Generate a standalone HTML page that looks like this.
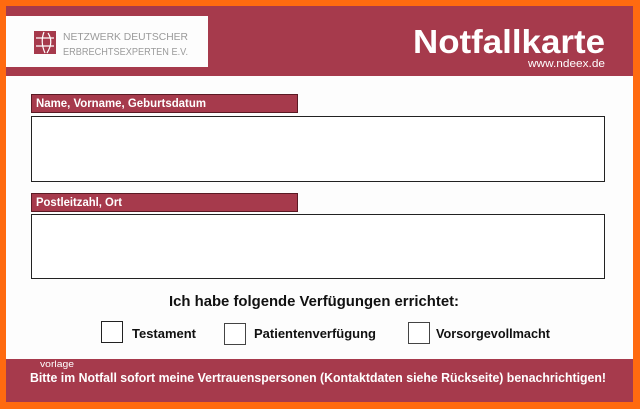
<!DOCTYPE html>
<html><head><meta charset="utf-8"><style>
html,body{margin:0;padding:0;background:#ff6a10;}
svg{display:block}
text{font-family:"Liberation Sans",sans-serif;font-weight:bold}
text.n{font-weight:normal}
</style></head><body>
<svg width="640" height="409" viewBox="0 0 640 409" xmlns="http://www.w3.org/2000/svg">
<rect x="0" y="0" width="640" height="409" fill="#ff6a10"/>
<rect x="6" y="6" width="627" height="396" fill="#fdfdfd"/>
<rect x="6" y="6" width="627" height="70" fill="#a63a4c"/>
<rect x="6" y="16" width="202" height="51" fill="#fdfdfd"/>
<rect x="34" y="31" width="22" height="23" fill="#a63a4c"/>
<path d="M36 38 H54 M36 46 H54 M44 32 Q40 42 45 53 M48 33 Q54 42 47 53" stroke="#fff" stroke-width="1.2" fill="none"/>
<text class="n" x="63" y="40" font-size="10" fill="#9a9a9a" textLength="125" lengthAdjust="spacingAndGlyphs">NETZWERK DEUTSCHER</text>
<text class="n" x="63" y="55" font-size="10" fill="#9a9a9a" textLength="125" lengthAdjust="spacingAndGlyphs">ERBRECHTSEXPERTEN E.V.</text>
<text x="413" y="53" font-size="33" fill="#fff" textLength="192" lengthAdjust="spacingAndGlyphs">Notfallkarte</text>
<text class="n" x="528" y="67" font-size="11" fill="#fff" textLength="77" lengthAdjust="spacingAndGlyphs">www.ndeex.de</text>

<rect x="31.5" y="94.5" width="266" height="18" fill="#a63a4c" stroke="#5a1a24"/>
<text x="36" y="107" font-size="12" fill="#fff" textLength="170" lengthAdjust="spacingAndGlyphs">Name, Vorname, Geburtsdatum</text>
<rect x="31.5" y="116.5" width="573" height="65" fill="#fff" stroke="#222"/>

<rect x="31.5" y="193.5" width="266" height="18" fill="#a63a4c" stroke="#5a1a24"/>
<text x="36" y="206" font-size="12" fill="#fff" textLength="86" lengthAdjust="spacingAndGlyphs">Postleitzahl, Ort</text>
<rect x="31.5" y="214.5" width="573" height="64" fill="#fff" stroke="#222"/>

<text x="169" y="306" font-size="15" fill="#111" textLength="290" lengthAdjust="spacingAndGlyphs">Ich habe folgende Verfügungen errichtet:</text>
<rect x="101.5" y="321.5" width="21" height="21" fill="#fff" stroke="#222"/>
<text x="132" y="338" font-size="13" fill="#111" textLength="64" lengthAdjust="spacingAndGlyphs">Testament</text>
<rect x="224.5" y="323.5" width="21" height="21" fill="#fff" stroke="#444"/>
<text x="254" y="338" font-size="13" fill="#111" textLength="122" lengthAdjust="spacingAndGlyphs">Patientenverfügung</text>
<rect x="408.5" y="322.5" width="21" height="21" fill="#fff" stroke="#444"/>
<text x="436" y="338" font-size="13" fill="#111" textLength="114" lengthAdjust="spacingAndGlyphs">Vorsorgevollmacht</text>

<rect x="6" y="359" width="627" height="43" fill="#a63a4c"/>
<text class="n" x="40" y="367" font-size="9" fill="#fff" textLength="34" lengthAdjust="spacingAndGlyphs">vorlage</text>
<text x="30" y="382" font-size="13" fill="#fff" textLength="576" lengthAdjust="spacingAndGlyphs">Bitte im Notfall sofort meine Vertrauenspersonen (Kontaktdaten siehe Rückseite) benachrichtigen!</text>
</svg>
</body></html>
